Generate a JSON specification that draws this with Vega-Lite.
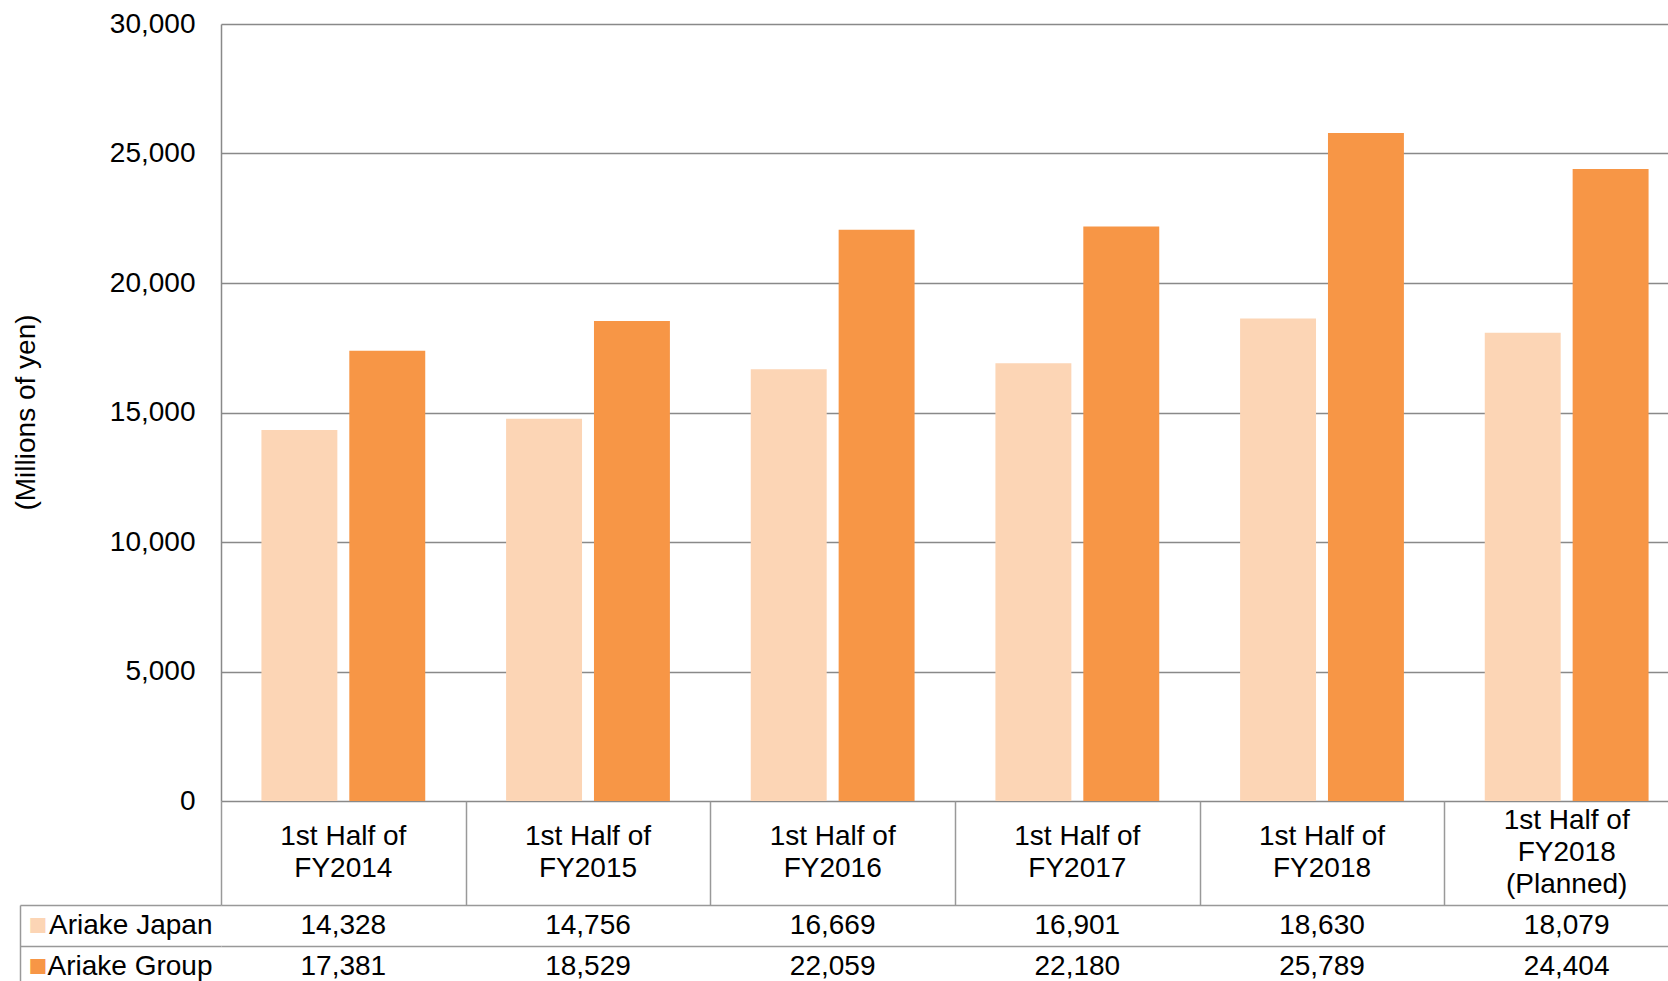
{
  "$schema": "https://vega.github.io/schema/vega-lite/v6.json",
  "padding": {"left": 12, "top": 10, "right": 0, "bottom": 0},
  "background": "white",
  "datasets": {
    "bars": [
      {"cat": "1st Half of\nFY2014", "series": "Ariake Japan", "value": 14328},
      {"cat": "1st Half of\nFY2014", "series": "Ariake Group", "value": 17381},
      {"cat": "1st Half of\nFY2015", "series": "Ariake Japan", "value": 14756},
      {"cat": "1st Half of\nFY2015", "series": "Ariake Group", "value": 18529},
      {"cat": "1st Half of\nFY2016", "series": "Ariake Japan", "value": 16669},
      {"cat": "1st Half of\nFY2016", "series": "Ariake Group", "value": 22059},
      {"cat": "1st Half of\nFY2017", "series": "Ariake Japan", "value": 16901},
      {"cat": "1st Half of\nFY2017", "series": "Ariake Group", "value": 22180},
      {"cat": "1st Half of\nFY2018", "series": "Ariake Japan", "value": 18630},
      {"cat": "1st Half of\nFY2018", "series": "Ariake Group", "value": 25789},
      {"cat": "1st Half of\nFY2018\n(Planned)", "series": "Ariake Japan", "value": 18079},
      {"cat": "1st Half of\nFY2018\n(Planned)", "series": "Ariake Group", "value": 24404}
    ]
  },
  "bounds": "flush",
  "spacing": 0,
  "vconcat": [
    {
      "width": 1468,
      "height": 777,
      "data": {"name": "bars"},
      "mark": {"type": "bar"},
      "encoding": {
        "x": {"field": "cat", "type": "nominal", "sort": null, "scale": {"paddingInner": 0, "paddingOuter": 0}, "axis": null},
        "xOffset": {"field": "series", "type": "nominal", "sort": ["Ariake Japan", "Ariake Group"], "scale": {"paddingInner": 0.136, "paddingOuter": 0.46}},
        "y": {
          "field": "value", "type": "quantitative",
          "scale": {"domain": [0, 30000], "nice": false, "zero": true},
          "axis": {
            "values": [0, 5000, 10000, 15000, 20000, 25000, 30000],
            "format": ",d",
            "labelFont": "Liberation Sans", "labelFontSize": 28, "labelColor": "#000000", "labelPadding": 26,
            "ticks": false,
            "domain": true, "domainColor": "#898989", "domainWidth": 1.5,
            "grid": true, "gridColor": "#898989", "gridWidth": 1.5,
            "title": "(Millions of yen)",
            "titleFont": "Liberation Sans", "titleFontSize": 28, "titleFontWeight": "normal", "titleColor": "#000000",
            "titleX": -195, "titleY": 388, "titleAngle": -90, "titleBaseline": "middle", "titleAlign": "center"
          }
        },
        "color": {"field": "series", "type": "nominal", "scale": {"domain": ["Ariake Japan", "Ariake Group"], "range": ["#FCD5B5", "#F79646"]}, "legend": null}
      }
    },
    {
      "width": 1468,
      "height": 104,
      "data": {"name": "bars"},
      "transform": [{"filter": "datum.series === 'Ariake Japan'"}],
      "encoding": {
        "x": {
          "field": "cat", "type": "nominal", "sort": null,
          "scale": {"paddingInner": 0, "paddingOuter": 0},
          "axis": {"tickBand": "extent", "grid": true, "gridColor": "#999999", "gridWidth": 1.5, "labels": false, "ticks": false, "domain": false, "title": null}
        },
        "text": {"field": "cat"}
      },
      "layer": [
        {
          "transform": [{"filter": "indexof(datum.cat, '(Planned)') < 0"}],
          "mark": {"type": "text", "lineBreak": "\n", "font": "Liberation Sans", "fontSize": 28, "lineHeight": 32, "baseline": "middle", "align": "center", "color": "#000000", "dy": -16}
        },
        {
          "transform": [{"filter": "indexof(datum.cat, '(Planned)') >= 0"}],
          "mark": {"type": "text", "lineBreak": "\n", "font": "Liberation Sans", "fontSize": 28, "lineHeight": 32, "baseline": "middle", "align": "center", "color": "#000000", "dy": -32}
        }
      ]
    },
    {
      "width": 1468,
      "height": 82,
      "data": {"name": "bars"},
      "layer": [
        {
          "mark": {"type": "text", "font": "Liberation Sans", "fontSize": 28, "baseline": "middle", "align": "center", "color": "#000000"},
          "encoding": {
            "x": {
              "field": "cat", "type": "nominal", "sort": null,
              "scale": {"paddingInner": 0, "paddingOuter": 0},
              "axis": {"tickBand": "extent", "grid": true, "gridColor": "#999999", "gridWidth": 1.5, "labels": false, "ticks": false, "domain": false, "title": null}
            },
            "y": {
              "field": "series", "type": "nominal", "sort": ["Ariake Japan", "Ariake Group"],
              "scale": {"paddingInner": 0, "paddingOuter": 0},
              "axis": {
                "tickBand": "extent", "grid": true, "gridColor": "#999999", "gridWidth": 1.5,
                "ticks": true, "tickSize": 201, "tickColor": "#999999", "tickWidth": 1.5,
                "domain": false,
                "labelFont": "Liberation Sans", "labelFontSize": 28, "labelColor": "#000000", "labelPadding": -192, "labelAlign": "right", "labelBaseline": "middle",
                "title": null
              }
            },
            "text": {"field": "value", "type": "quantitative", "format": ",d"}
          }
        },
        {
          "mark": {"type": "point", "opacity": 0},
          "encoding": {
            "x": {"field": "cat", "type": "nominal", "sort": null, "scale": {"paddingInner": 0, "paddingOuter": 0}, "axis": null},
            "y": {
              "field": "series", "type": "nominal", "sort": ["Ariake Japan", "Ariake Group"],
              "scale": {"paddingInner": 0, "paddingOuter": 0},
              "axis": {
                "orient": "left", "offset": 201,
                "domain": true, "domainColor": "#999999", "domainWidth": 1.5,
                "ticks": false, "tickSize": 0, "grid": false,
                "labelExpr": "'■'",
                "labelFont": "Liberation Sans", "labelFontSize": 31, "labelAlign": "left", "labelBaseline": "middle", "labelPadding": -8,
                "labelColor": {"condition": {"test": "datum.value === 'Ariake Japan'", "value": "#FCD5B5"}, "value": "#F79646"},
                "title": null
              }
            }
          }
        }
      ],
      "resolve": {"scale": {"y": "independent"}}
    }
  ],
  "config": {
    "view": {"stroke": null},
    "font": "Liberation Sans"
  }
}
